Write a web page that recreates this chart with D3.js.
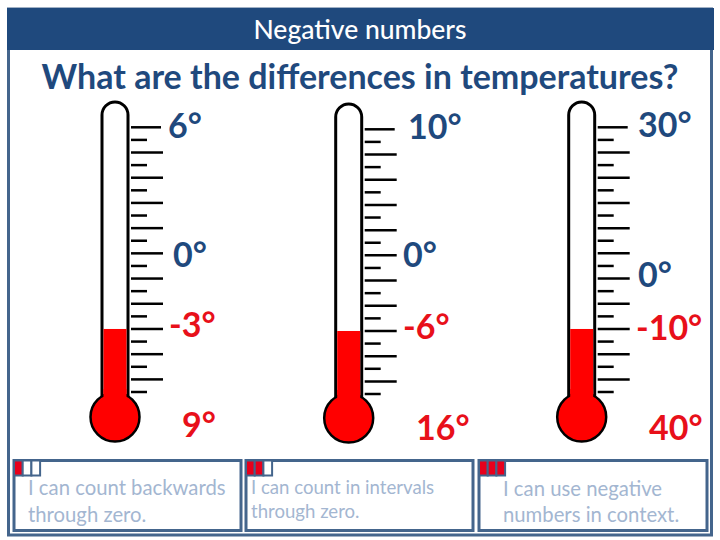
<!DOCTYPE html>
<html lang="en">
<head>
  <meta charset="UTF-8">
  <title>Negative numbers</title>
  <script src="https://d3js.org/d3.v7.min.js"></script>
  <style>
    body { margin: 0; background: white; overflow: hidden; }
    text { font-family: Lato, "Open Sans", sans-serif; }
  </style>
</head>
<body>
  <svg id="chart" width="720" height="540"></svg>
  <script>
    // Data
    const pageTitle = "Negative numbers";
    const question = "What are the differences in temperatures?";
    const tickCount = 22;              // marks on each thermometer
    const fillLevels = [5, 5, 5];      // red level, in ticks above the lowest mark
    const highLabels = ["6°", "10°", "30°"];
    const zeroLabels = ["0°", "0°", "0°"];
    const lowLabels = ["-3°", "-6°", "-10°"];
    const diffLabels = ["9°", "16°", "40°"];
    const goals = [
      ["I can count backwards", "through zero."],
      ["I can count in intervals", "through zero."],
      ["I can use negative", "numbers in context."]
    ];
    const goalStars = [1, 2, 3];       // red cells out of three

    // Layout, kept apart from the values
    const thermoX = [115, 348.7, 581.7];
    const thermoTop = [102, 104, 102];
    const tickTop = [127.3, 129.3, 127.3];
    const tickBottom = [392, 394, 392];
    const bulbY = [417, 418, 417];
    const highPos = [[168, 138], [408, 139], [638, 137]];
    const zeroPos = [[173, 267], [403, 267], [638, 287]];
    const lowPos = [[169, 337], [403, 339], [636, 340]];
    const diffPos = [[182, 437], [416, 440], [649, 440]];
    const boxes = [
      { x: 14, w: 227, tx: 28, ty: [495, 522], size: 20.3 },
      { x: 246, w: 227, tx: 251, ty: [494, 518], size: 18.6 },
      { x: 479, w: 228, tx: 503, ty: [496, 522], size: 20.3 }
    ];

    const navy = "#1f497d";
    const frame = "#44658c";
    const red = "#ff0000";
    const labelRed = "#e8101a";
    const svg = d3.select("#chart");

    // Page frame and header
    svg.append("rect").attr("x", 8.5).attr("y", 9).attr("width", 703).attr("height", 526)
      .attr("fill", "white").attr("stroke", frame).attr("stroke-width", 3);
    svg.append("rect").attr("x", 7).attr("y", 8).attr("width", 707).attr("height", 42).attr("fill", navy);
    svg.append("text").attr("x", 360).attr("y", 39).attr("text-anchor", "middle")
      .attr("fill", "white").attr("font-size", 26.5).attr("font-weight", 500).text(pageTitle);
    svg.append("text").attr("x", 360).attr("y", 89).attr("text-anchor", "middle")
      .attr("fill", navy).attr("font-size", 34).attr("font-weight", 700).text(question);

    // Thermometers
    fillLevels.forEach((level, i) => {
      const cx = thermoX[i];
      const y = d3.scaleLinear().domain([0, tickCount - 1]).range([tickBottom[i], tickTop[i]]);
      const g = svg.append("g");

      g.append("rect").attr("x", cx - 13).attr("y", thermoTop[i]).attr("width", 26)
        .attr("height", bulbY[i] - thermoTop[i]).attr("rx", 13)
        .attr("fill", "white").attr("stroke", "black").attr("stroke-width", 3);
      g.append("rect").attr("x", cx - 11.5).attr("y", y(level)).attr("width", 23)
        .attr("height", bulbY[i] - y(level)).attr("fill", red);
      g.append("circle").attr("cx", cx).attr("cy", bulbY[i]).attr("r", 24.5)
        .attr("fill", red).attr("stroke", "black").attr("stroke-width", 2.5);
      // cover the bulb outline where it crosses into the tube
      g.append("rect").attr("x", cx - 11.5).attr("y", bulbY[i] - 28).attr("width", 23)
        .attr("height", 10).attr("fill", red);

      g.selectAll("line").data(d3.range(tickCount)).join("line")
        .attr("x1", cx + 16)
        .attr("x2", d => {
          if (d % 2 === 0) return cx + 32;
          return d === tickCount - 1 ? cx + 46 : cx + 48;
        })
        .attr("y1", d => y(d)).attr("y2", d => y(d))
        .attr("stroke", "black").attr("stroke-width", 2.5);
    });

    // Temperature labels
    const addLabels = (labels, pos, colour) => {
      svg.append("g").selectAll("text").data(labels).join("text")
        .attr("x", (d, i) => pos[i][0]).attr("y", (d, i) => pos[i][1])
        .attr("fill", colour).attr("font-size", 34).attr("font-weight", 700)
        .text(d => d);
    };
    addLabels(highLabels, highPos, navy);
    addLabels(zeroLabels, zeroPos, navy);
    addLabels(lowLabels, lowPos, labelRed);
    addLabels(diffLabels, diffPos, labelRed);

    // Learning goal boxes
    boxes.forEach((b, i) => {
      const g = svg.append("g");
      g.append("rect").attr("x", b.x).attr("y", 460.5).attr("width", b.w).attr("height", 70)
        .attr("fill", "white").attr("stroke", frame).attr("stroke-width", 3);
      d3.range(3).forEach(c => {
        g.append("rect").attr("x", b.x + c * 8.7).attr("y", 460.5).attr("width", 8.7).attr("height", 15)
          .attr("fill", c < goalStars[i] ? "#e8001c" : "white")
          .attr("stroke", frame).attr("stroke-width", 2);
      });
      g.selectAll("text").data(goals[i]).join("text")
        .attr("x", b.tx).attr("y", (d, k) => b.ty[k])
        .attr("fill", "#a3b6d1").attr("font-size", b.size)
        .text(d => d);
    });
  </script>
</body>
</html>
